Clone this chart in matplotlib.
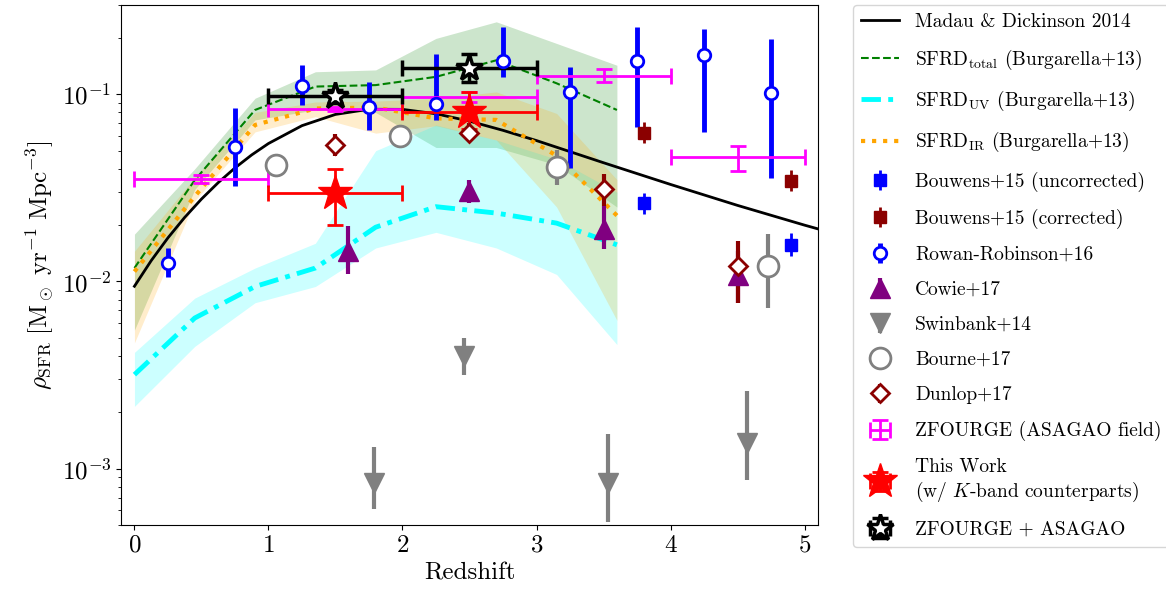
import numpy as np
import matplotlib
matplotlib.use('Agg')
import matplotlib.pyplot as plt

plt.rcParams.update({
    "font.family": "serif",
    "font.serif": ["cmr10"],
    "mathtext.fontset": "cm",
    "axes.unicode_minus": False,
    "axes.formatter.use_mathtext": True,
})

# Madau & Dickinson 2014 curve
md_z = [0, 0.125, 0.25, 0.375, 0.5, 0.625, 0.75, 0.875, 1.0, 1.25, 1.5, 1.75,
        2.0, 2.25, 2.5, 2.75, 3.0, 3.5, 4.0, 4.5, 5.0, 5.1]
md_sfr = [0.00943, 0.01292, 0.01711, 0.0220, 0.02756, 0.03374, 0.04043, 0.04746,
          0.0546, 0.0680, 0.0781, 0.0832, 0.0831, 0.0787, 0.0719, 0.0642,
          0.0566, 0.0431, 0.0330, 0.0255, 0.0200, 0.0191]

# Burgarella+13
bg_z = [0, 0.45, 0.9, 1.35, 1.8, 2.25, 2.7, 3.15, 3.6]
tot = [0.0118, 0.0348, 0.0825, 0.110, 0.112, 0.124, 0.152, 0.1145, 0.0825]
tot_hi = [0.0179, 0.040, 0.0953, 0.132, 0.135, 0.199, 0.244, 0.187, 0.143]
tot_lo = [0.0055, 0.031, 0.073, 0.0825, 0.080, 0.052, 0.052, 0.042, 0.025]
uv = [0.00318, 0.00638, 0.0094, 0.0118, 0.0195, 0.0251, 0.0232, 0.0205, 0.0157]
uv_hi = [0.00418, 0.00815, 0.0118, 0.016, 0.050, 0.0686, 0.057, 0.045, 0.030]
uv_lo = [0.00215, 0.0045, 0.0077, 0.0094, 0.0151, 0.0183, 0.0151, 0.0109, 0.0046]
ir = [0.0113, 0.0285, 0.0686, 0.084, 0.085, 0.0744, 0.073, 0.047, 0.0225]
ir_hi = [0.0145, 0.036, 0.080, 0.091, 0.092, 0.095, 0.103, 0.079, 0.035]
ir_lo = [0.0047, 0.027, 0.063, 0.076, 0.062, 0.068, 0.057, 0.025, 0.0062]

# Bouwens+15
bw_z = [3.8, 4.9]
bwu_sfr = [0.0262, 0.0157]
bwu_lo = [0.0229, 0.0137]
bwu_hi = [0.0298, 0.0181]
bwc_sfr = [0.0624, 0.0346]
bwc_lo = [0.0548, 0.0303]
bwc_hi = [0.0714, 0.0395]

# Rowan-Robinson+16
rr_z = [0.25, 0.75, 1.25, 1.75, 2.25, 2.75, 3.25, 3.75, 4.25, 4.75]
rr_sfr = [0.0125, 0.0525, 0.111, 0.086, 0.0884, 0.151, 0.1025, 0.151, 0.162, 0.102]
rr_lo = [0.0106, 0.0324, 0.0877, 0.0645, 0.0729, 0.124, 0.0403, 0.0667, 0.063, 0.0356]
rr_hi = [0.0151, 0.084, 0.143, 0.117, 0.165, 0.228, 0.14, 0.228, 0.222, 0.197]

# Cowie+17
cw_z = [1.59, 2.5, 3.5, 4.5]
cw_sfr = [0.0145, 0.0305, 0.019, 0.0108]
cw_lo = [0.0109, 0.0262, 0.015, 0.0077]
cw_hi = [0.0198, 0.035, 0.0252, 0.0145]

# Swinbank+14
sw_z = [1.79, 2.46, 3.53, 4.57]
sw_sfr = [0.00084, 0.00398, 0.00084, 0.00137]
sw_lo = [0.00061, 0.00318, 0.00052, 0.00087]
sw_hi = [0.0013, 0.00499, 0.00153, 0.00259]

# Bourne+17
bo_z = [1.06, 1.98, 3.15, 4.73]
bo_sfr = [0.0418, 0.0599, 0.0407, 0.0121]
bo_lo = [0.0405, 0.058, 0.0328, 0.0072]
bo_hi = [0.043, 0.062, 0.0505, 0.018]

# Dunlop+17
dn_z = [1.5, 2.5, 3.5, 4.5]
dn_sfr = [0.0536, 0.0624, 0.0311, 0.0121]
dn_lo = [0.0469, 0.057, 0.0252, 0.0077]
dn_hi = [0.0614, 0.0705, 0.0375, 0.0165]

# ZFOURGE (ASAGAO field)
zf_z = [0.5, 1.5, 2.5, 3.5, 4.5]
zf_zlo = [0, 1, 2, 3, 4]
zf_zhi = [1, 2, 3, 4, 5]
zf_sfr = [0.0352, 0.0835, 0.0971, 0.1257, 0.0461]
zf_lo = [0.0335, 0.081, 0.0913, 0.1167, 0.0391]
zf_hi = [0.0372, 0.086, 0.103, 0.136, 0.0532]

# This work and ZFOURGE + ASAGAO
tw_z = [1.5, 2.5]
tw_zlo = [1, 2]
tw_zhi = [2, 3]
tw_sfr = [0.0296, 0.0808]
tw_lo = [0.0200, 0.065]
tw_hi = [0.0399, 0.1033]
za_sfr = [0.0979, 0.1377]
za_lo = [0.090, 0.1167]
za_hi = [0.106, 0.164]


def yerr(v, lo, hi):
    v = np.array(v)
    return [v - np.array(lo), np.array(hi) - v]


def xerr(z, zlo, zhi):
    z = np.array(z)
    return [z - np.array(zlo), np.array(zhi) - z]


fig = plt.figure(figsize=(11.66, 5.97), dpi=100)
ax = fig.add_axes([0.1038, 0.1206, 0.5977, 0.871])

ax.fill_between(bg_z, tot_lo, tot_hi, color='green', alpha=0.2, lw=0)
ax.fill_between(bg_z, uv_lo, uv_hi, color='cyan', alpha=0.2, lw=0)
ax.fill_between(bg_z, ir_lo, ir_hi, color='orange', alpha=0.2, lw=0)

ax.plot(md_z, md_sfr, 'k-', lw=2, label='Madau & Dickinson 2014')
ax.plot(bg_z, tot, '--', color='green', lw=1.5,
        label=r'SFRD$_{\rm total}$ (Burgarella+13)')
ax.plot(bg_z, uv, color='cyan', lw=3.5, ls=(0, (4, 1.5, 1, 1.5)),
        label=r'SFRD$_{\rm UV}$ (Burgarella+13)')
ax.plot(bg_z, ir, ':', color='orange', lw=3,
        label=r'SFRD$_{\rm IR}$ (Burgarella+13)')

ax.errorbar(bw_z, bwu_sfr, yerr=yerr(bwu_sfr, bwu_lo, bwu_hi), fmt='s',
            color='blue', ms=9, elinewidth=2, label='Bouwens+15 (uncorrected)')
ax.errorbar(bw_z, bwc_sfr, yerr=yerr(bwc_sfr, bwc_lo, bwc_hi), fmt='s',
            color='darkred', ms=9, elinewidth=2, label='Bouwens+15 (corrected)')
ax.errorbar(rr_z, rr_sfr, yerr=yerr(rr_sfr, rr_lo, rr_hi), fmt='o',
            color='blue', mfc='white', mec='blue', mew=2, ms=9,
            elinewidth=3.5, label='Rowan-Robinson+16')
ax.errorbar(cw_z, cw_sfr, yerr=yerr(cw_sfr, cw_lo, cw_hi), fmt='^',
            color='purple', ms=15, elinewidth=3, label='Cowie+17')
ax.errorbar(sw_z, sw_sfr, yerr=yerr(sw_sfr, sw_lo, sw_hi), fmt='v',
            color='grey', ms=15, elinewidth=3, label='Swinbank+14')
ax.errorbar(bo_z, bo_sfr, yerr=yerr(bo_sfr, bo_lo, bo_hi), fmt='o',
            color='grey', mfc='white', mec='grey', mew=2, ms=15,
            elinewidth=3, label='Bourne+17')
ax.errorbar(dn_z, dn_sfr, yerr=yerr(dn_sfr, dn_lo, dn_hi), fmt='D',
            color='darkred', mfc='white', mec='darkred', mew=2, ms=9,
            elinewidth=3, label='Dunlop+17')
ax.errorbar(zf_z, zf_sfr, xerr=xerr(zf_z, zf_zlo, zf_zhi),
            yerr=yerr(zf_sfr, zf_lo, zf_hi), fmt='none', color='magenta',
            elinewidth=2, capsize=6, capthick=2,
            label='ZFOURGE (ASAGAO field)')
ax.errorbar(tw_z, tw_sfr, xerr=xerr(tw_z, tw_zlo, tw_zhi),
            yerr=yerr(tw_sfr, tw_lo, tw_hi), fmt='*', color='red', ms=26,
            elinewidth=2, capsize=6, capthick=2,
            label='This Work\n(w/ $K$-band counterparts)')
ax.errorbar(tw_z, za_sfr, xerr=xerr(tw_z, tw_zlo, tw_zhi),
            yerr=yerr(za_sfr, za_lo, za_hi), fmt='*', color='black',
            mfc='white', mec='black', mew=2.5, ms=20, elinewidth=2.5,
            capsize=6, capthick=2, label='ZFOURGE + ASAGAO')

ax.set_yscale('log')
ax.set_xlim(-0.1, 5.1)
ax.set_ylim(5e-4, 0.3)
ax.set_xticks([0, 1, 2, 3, 4, 5])
ax.tick_params(labelsize=18)
ax.set_xlabel('Redshift', fontsize=18)
ax.set_ylabel(r'$\rho_{\rm SFR}\ [{\rm M}_\odot\ {\rm yr}^{-1}\ {\rm Mpc}^{-3}]$',
              fontsize=18)

ax.legend(loc='upper left', bbox_to_anchor=(1.05, 1.0), borderaxespad=0,
          fontsize=14, labelspacing=0.88, handlelength=2.0)

fig.savefig('out.png', dpi=100)
